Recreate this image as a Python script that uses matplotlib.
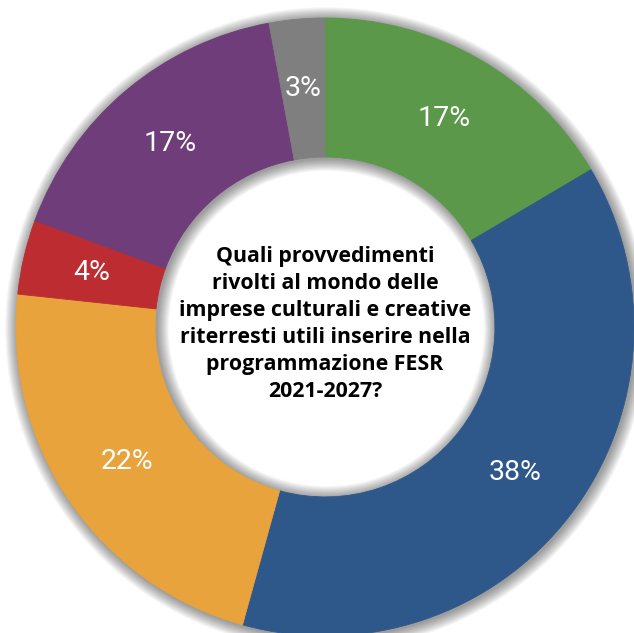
import numpy as np
import matplotlib
matplotlib.use("Agg")
import matplotlib.pyplot as plt
from matplotlib.patches import Wedge

# Data (clockwise from the top)
values = [16.5, 37.8, 22.4, 3.9, 16.5, 2.9]
labels = ["17%", "38%", "22%", "4%", "17%", "3%"]
colors = ["#5B984A", "#2E588A", "#E8A33C", "#BC2C30", "#6E3D7A", "#7F7F7F"]
center_text = ("Quali provvedimenti\nrivolti al mondo delle\nimprese culturali e creative\n"
               "riterresti utili inserire nella\nprogrammazione FESR\n2021-2027?")

W, H = 634, 633
fig = plt.figure(figsize=(W / 100, H / 100), dpi=100)
ax = fig.add_axes([0, 0, 1, 1])

R = 309.0
cx, cy = 325.0, 327.0
inner = 0.55
width = 1 - inner

# soft shadow around the ring (outside and inside the hole)
n = 14
dmax = 0.04
off = (1.5 / R, -1.5 / R)
for k in range(n):
    d = dmax * (k + 1) / n
    ax.add_patch(Wedge(off, 1 + d, 0, 360, width=width + 2 * d,
                       facecolor="black", alpha=0.03, linewidth=0, zorder=0))

wedges, _ = ax.pie(values, colors=colors, startangle=90, counterclock=False,
                   radius=1, wedgeprops=dict(width=width, linewidth=0.6, zorder=2))
for w, c in zip(wedges, colors):
    w.set_edgecolor(c)
    w.set_zorder(2)

rmid = 1 - width / 2
for w, lab in zip(wedges, labels):
    ang = np.deg2rad((w.theta1 + w.theta2) / 2)
    ax.text(rmid * np.cos(ang), rmid * np.sin(ang), lab, ha="center", va="center",
            color="white", fontsize=20.5, family="Roboto", fontweight="normal", zorder=3)

ax.text(0, 0.01, center_text, ha="center", va="center", fontsize=15.4,
        family="Open Sans", fontweight="bold", color="black", linespacing=1.37, zorder=3)

ax.set_xlim(-cx / R, (W - cx) / R)
ax.set_ylim(-(H - cy) / R, cy / R)
ax.set_aspect("auto")
ax.axis("off")

fig.savefig("out.png", dpi=100, facecolor="white")
